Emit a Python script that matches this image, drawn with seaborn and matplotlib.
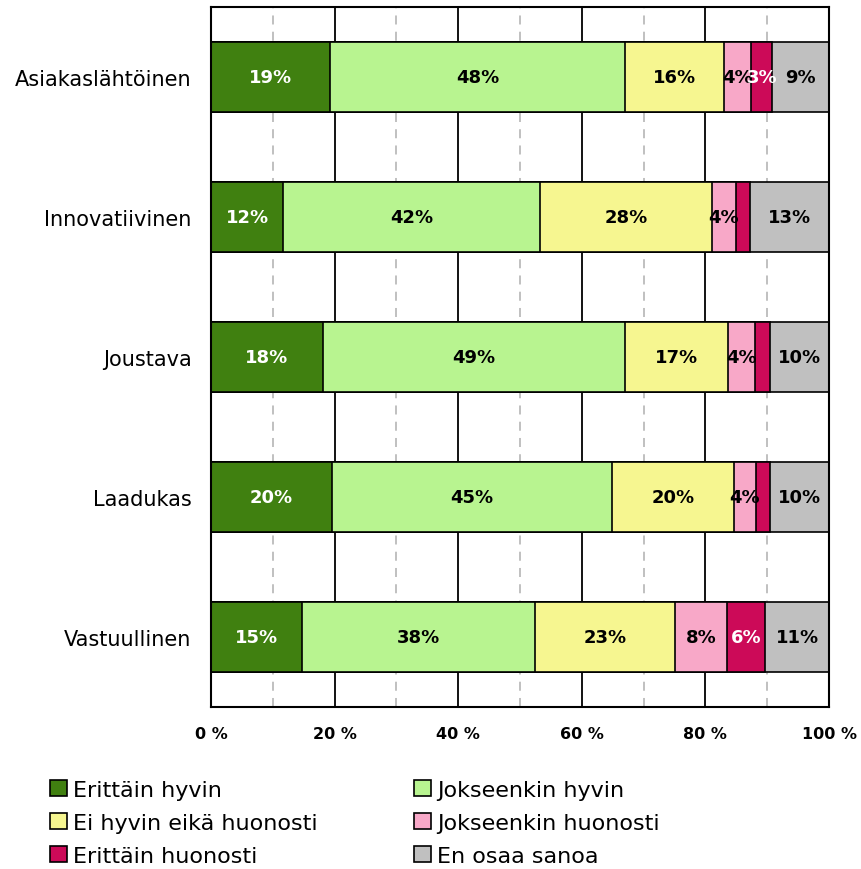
import matplotlib
matplotlib.use("Agg")
import matplotlib.pyplot as plt
import seaborn as sns
import numpy as np
import pandas as pd
from matplotlib.patches import Patch

categories = ["Asiakaslähtöinen", "Innovatiivinen", "Joustava", "Laadukas", "Vastuullinen"]
series_names = ["Erittäin hyvin", "Jokseenkin hyvin", "Ei hyvin eikä huonosti",
                "Jokseenkin huonosti", "Erittäin huonosti", "En osaa sanoa"]
erittain_hyvin = [19.3, 11.7, 18.1, 19.6, 14.7]
jokseenkin_hyvin = [47.7, 41.6, 48.9, 45.3, 37.7]
ei_hyvin_eika = [16.0, 27.7, 16.7, 19.7, 22.7]
jokseenkin_huonosti = [4.4, 3.9, 4.4, 3.6, 8.4]
erittain_huonosti = [3.4, 2.3, 2.3, 2.3, 6.1]
en_osaa = [9.2, 12.8, 9.6, 9.5, 10.6]
x_ticks = [0, 20, 40, 60, 80, 100]
x_tick_labels = ["0 %", "20 %", "40 %", "60 %", "80 %", "100 %"]

colors = ["#408010", "#B8F490", "#F6F690", "#F8A8C8", "#CC0A58", "#C0C0C0"]
text_colors = ["white", "black", "black", "black", "white", "black"]

values = np.array([erittain_hyvin, jokseenkin_hyvin, ei_hyvin_eika,
                   jokseenkin_huonosti, erittain_huonosti, en_osaa])
cum = np.cumsum(values, axis=0)

sns.set_theme(style="white")
plt.rcParams['font.family'] = ['DejaVu Sans']
plt.rcParams['text.color'] = 'black'
plt.rcParams['xtick.color'] = 'black'
plt.rcParams['ytick.color'] = 'black'

fig = plt.figure(figsize=(8.61, 8.70), dpi=100)
ax = fig.add_axes([211/861, 1 - 708/870, (829-211)/861, 700/870])

# vertical gridlines
for v in range(10, 100, 20):
    ax.axvline(v, color="#BBBBBB", lw=1.3, ls=(0, (5, 4)), zorder=0)
for v in range(20, 100, 20):
    ax.axvline(v, color="black", lw=1.3, zorder=0)

df = pd.DataFrame({"cat": categories})
for i in range(len(series_names) - 1, -1, -1):
    df["v"] = cum[i]
    sns.barplot(data=df, x="v", y="cat", orient="h", color=colors[i],
                edgecolor="black", linewidth=1.2, width=0.5, ax=ax,
                saturation=1, zorder=2 + (len(series_names) - i))

# labels
for i in range(len(series_names)):
    for j in range(len(categories)):
        val = values[i, j]
        if val < 3:
            continue
        center = cum[i, j] - val / 2
        ax.text(center, j, f"{int(round(val))}%", ha="center", va="center",
                fontsize=13, fontweight="bold", color=text_colors[i], zorder=20)

ax.set_xlim(0, 100)
ax.set_ylim(4.5, -0.5)
ax.set_xticks(x_ticks)
ax.set_xticklabels(x_tick_labels, fontsize=11.5, fontweight="bold")
ax.tick_params(axis="x", length=0, pad=14, colors="black")
ax.tick_params(axis="y", length=0, pad=14, labelsize=15, colors="black")
ax.set_xlabel("")
ax.set_ylabel("")
for s in ax.spines.values():
    s.set_color("black")
    s.set_linewidth(1.5)
    s.set_visible(True)
    s.set_zorder(30)

hs = [Patch(facecolor=colors[k], edgecolor="black", linewidth=1.2) for k in range(6)]
leg_kw = dict(loc="upper left", frameon=False, fontsize=16, handlelength=0.75,
              handleheight=0.75, handletextpad=0.3, labelspacing=0.58,
              borderaxespad=0, borderpad=0, labelcolor="black")
fig.legend([hs[k] for k in [0, 2, 4]], [series_names[k] for k in [0, 2, 4]],
           bbox_to_anchor=(50/861, 1 - 781/870), **leg_kw)
fig.legend([hs[k] for k in [1, 3, 5]], [series_names[k] for k in [1, 3, 5]],
           bbox_to_anchor=(414/861, 1 - 781/870), **leg_kw)

fig.savefig("out.png", dpi=100)
